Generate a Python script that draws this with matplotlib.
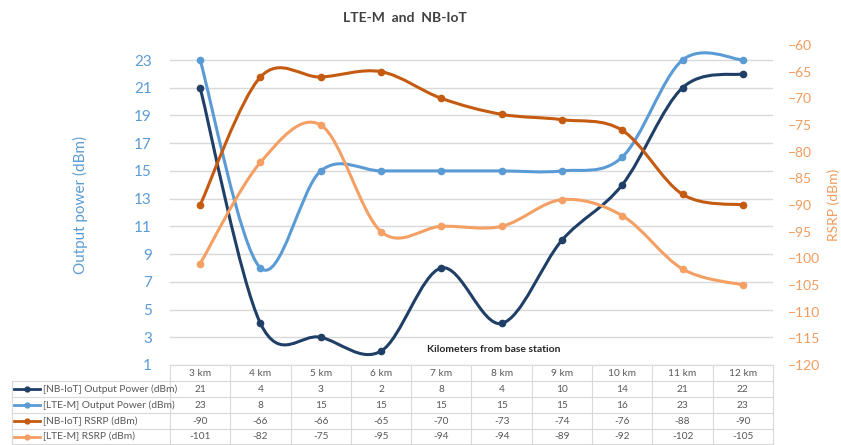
import matplotlib
matplotlib.use('Agg')
import matplotlib.pyplot as plt
import matplotlib.transforms as mtransforms
from matplotlib.path import Path
from matplotlib.patches import PathPatch
from matplotlib.lines import Line2D

plt.rcParams['font.family'] = ['Lato', 'DejaVu Sans']

categories = ['3 km', '4 km', '5 km', '6 km', '7 km', '8 km', '9 km', '10 km', '11 km', '12 km']
nbiot_power = [21, 4, 3, 2, 8, 4, 10, 14, 21, 22]
ltem_power = [23, 8, 15, 15, 15, 15, 15, 16, 23, 23]
nbiot_rsrp = [-90, -66, -66, -65, -70, -73, -74, -76, -88, -90]
ltem_rsrp = [-101, -82, -75, -95, -94, -94, -89, -92, -102, -105]

series_names = ['[NB-IoT] Output Power (dBm)', '[LTE-M] Output Power (dBm)',
                '[NB-IoT] RSRP (dBm)', '[LTE-M] RSRP (dBm)']
colors = ['#1F3F66', '#5B9BD5', '#C55A11', '#F4A064']

W, H = 841, 445
fig = plt.figure(figsize=(W / 100, H / 100), dpi=100)
ax = fig.add_axes([170 / W, 1 - 365 / H, 603 / W, 320 / H])
ax2 = ax.twinx()


def smooth_path(ax_, xs, ys, color):
    # excel style smoothed line: cubic bezier through every point
    n = len(xs)
    verts = [(xs[0], ys[0])]
    codes = [Path.MOVETO]
    for i in range(n - 1):
        x0, y0 = (xs[i - 1], ys[i - 1]) if i > 0 else (xs[i], ys[i])
        x3, y3 = (xs[i + 2], ys[i + 2]) if i + 2 < n else (xs[i + 1], ys[i + 1])
        x1, y1 = xs[i], ys[i]
        x2, y2 = xs[i + 1], ys[i + 1]
        c1 = (x1 + (x2 - x0) / 6, y1 + (y2 - y0) / 6)
        c2 = (x2 - (x3 - x1) / 6, y2 - (y3 - y1) / 6)
        verts += [c1, c2, (x2, y2)]
        codes += [Path.CURVE4] * 3
    ax_.add_patch(PathPatch(Path(verts, codes), fill=False, edgecolor=color,
                            lw=2.2, capstyle='round', joinstyle='round', zorder=3))
    ax_.plot(xs, ys, 'o', color=color, ms=4.5, zorder=4)


x = list(range(len(categories)))
smooth_path(ax, x, nbiot_power, colors[0])
smooth_path(ax, x, ltem_power, colors[1])
smooth_path(ax2, x, nbiot_rsrp, colors[2])
smooth_path(ax2, x, ltem_rsrp, colors[3])

ax.set_xlim(-0.5, len(categories) - 0.5)
ax.set_ylim(1, 23 + 15 / (305 / 22))
ax.set_yticks(range(1, 24, 2))
ax2.set_ylim(-120, -60)
ax2.set_yticks(range(-120, -59, 5))
ax.set_xticks([])

ax.grid(axis='y', color='#D9D9D9', lw=1)
ax.set_axisbelow(True)
for a in (ax, ax2):
    for s in a.spines.values():
        s.set_visible(False)
ax.tick_params(axis='y', length=0, pad=13, labelsize=11, labelcolor='#5B9BD5')
ax2.tick_params(axis='y', length=0, pad=11, labelsize=10, labelcolor='#F19B5E')

ax.set_ylabel('Output power (dBm)', color='#5B9BD5', fontsize=11)
ax.yaxis.set_label_coords(-0.136, 0.5)
ax2.set_ylabel('RSRP (dBm)', color='#F19B5E', fontsize=10, rotation=90)
ax2.yaxis.set_label_coords(1.09, 0.5)

fig.text(405 / W, 1 - 18 / H, 'LTE-M  and  NB-IoT', ha='center', va='center',
         fontsize=10, fontweight='bold', color='#404040')
fig.text(494 / W, 1 - 349 / H, 'Kilometers from base station', ha='center', va='center',
         fontsize=7.5, fontweight='bold', color='#262626')

# data table under the chart
tr = mtransforms.blended_transform_factory(ax.transData, fig.transFigure)
grid_c = '#D9D9D9'
text_c = '#595959'
row_px = [365, 381, 397, 413, 429, 444]
fy = lambda p: 1 - p / H
x_left = -0.5
x_right = len(categories) - 0.5
legend_left = 12 / W
legend_right = 170 / W

for i, p in enumerate(row_px):
    fig.add_artist(Line2D([x_left, x_right], [fy(p), fy(p)], transform=tr, color=grid_c, lw=0.8))
    if i > 0:
        fig.add_artist(Line2D([legend_left, legend_right], [fy(p), fy(p)],
                              transform=fig.transFigure, color=grid_c, lw=0.8))
for k in range(len(categories) + 1):
    xv = k - 0.5
    fig.add_artist(Line2D([xv, xv], [fy(row_px[0]), fy(row_px[-1])], transform=tr, color=grid_c, lw=0.8))
fig.add_artist(Line2D([legend_left, legend_left], [fy(row_px[1]), fy(row_px[-1])],
                      transform=fig.transFigure, color=grid_c, lw=0.8))

for j, cat in enumerate(categories):
    fig.text(j, fy((row_px[0] + row_px[1]) / 2), cat, transform=tr, ha='center', va='center',
             fontsize=7.3, color=text_c)

table_rows = [nbiot_power, ltem_power, nbiot_rsrp, ltem_rsrp]
for r, vals in enumerate(table_rows):
    yc = fy((row_px[r + 1] + row_px[r + 2]) / 2)
    fig.add_artist(Line2D([14 / W, 40 / W], [yc, yc], transform=fig.transFigure,
                          color=colors[r], lw=2))
    fig.add_artist(Line2D([27 / W], [yc], transform=fig.transFigure, color=colors[r],
                          marker='o', ms=3.5, lw=0))
    fig.text(43 / W, yc, series_names[r], ha='left', va='center', fontsize=7.4, color=text_c)
    for j, v in enumerate(vals):
        fig.text(j, yc, str(v), transform=tr, ha='center', va='center', fontsize=7.3, color=text_c)

fig.savefig('out.png', dpi=100)
